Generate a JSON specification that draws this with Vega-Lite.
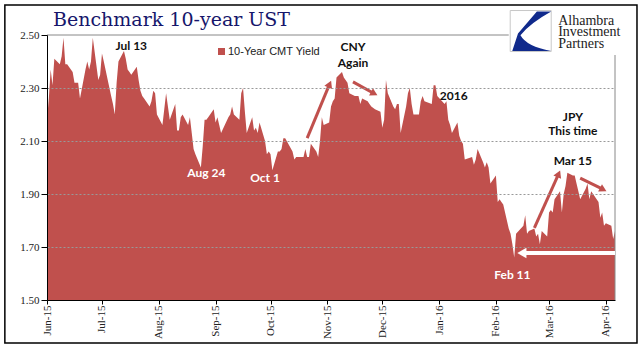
{
  "$schema": "https://vega.github.io/schema/vega-lite/v6.json",
  "width": 568,
  "height": 265,
  "autosize": {"type": "none"},
  "padding": {"left": 47, "top": 35, "right": 29, "bottom": 61},
  "background": "white",
  "title": {"text": "Benchmark 10-year UST", "anchor": "start", "frame": "group", "font": "DejaVu Serif", "fontSize": 19, "fontWeight": "normal", "color": "#16166B", "dx": 6, "dy": 30, "offset": 4},
  "datasets": {
    "yields": [
      {"d":"2015-06-01","v":2.18},{"d":"2015-06-02","v":2.26},{"d":"2015-06-03","v":2.37},{"d":"2015-06-04","v":2.31},{"d":"2015-06-05","v":2.41},
      {"d":"2015-06-08","v":2.39},{"d":"2015-06-09","v":2.42},{"d":"2015-06-10","v":2.49},{"d":"2015-06-11","v":2.39},{"d":"2015-06-12","v":2.39},
      {"d":"2015-06-15","v":2.36},{"d":"2015-06-16","v":2.32},{"d":"2015-06-17","v":2.32},{"d":"2015-06-18","v":2.32},{"d":"2015-06-19","v":2.26},
      {"d":"2015-06-22","v":2.37},{"d":"2015-06-23","v":2.40},{"d":"2015-06-24","v":2.37},{"d":"2015-06-25","v":2.40},{"d":"2015-06-26","v":2.49},
      {"d":"2015-06-29","v":2.33},{"d":"2015-06-30","v":2.35},
      {"d":"2015-07-01","v":2.43},{"d":"2015-07-02","v":2.40},{"d":"2015-07-06","v":2.27},{"d":"2015-07-07","v":2.24},{"d":"2015-07-08","v":2.20},
      {"d":"2015-07-09","v":2.32},{"d":"2015-07-10","v":2.40},{"d":"2015-07-13","v":2.44},{"d":"2015-07-14","v":2.41},{"d":"2015-07-15","v":2.37},
      {"d":"2015-07-16","v":2.36},{"d":"2015-07-17","v":2.35},{"d":"2015-07-20","v":2.38},{"d":"2015-07-21","v":2.33},{"d":"2015-07-22","v":2.29},
      {"d":"2015-07-23","v":2.27},{"d":"2015-07-24","v":2.26},{"d":"2015-07-27","v":2.23},{"d":"2015-07-28","v":2.25},{"d":"2015-07-29","v":2.29},
      {"d":"2015-07-30","v":2.28},{"d":"2015-07-31","v":2.20},
      {"d":"2015-08-03","v":2.16},{"d":"2015-08-04","v":2.22},{"d":"2015-08-05","v":2.28},{"d":"2015-08-06","v":2.23},{"d":"2015-08-07","v":2.18},
      {"d":"2015-08-10","v":2.24},{"d":"2015-08-11","v":2.14},{"d":"2015-08-12","v":2.14},{"d":"2015-08-13","v":2.19},{"d":"2015-08-14","v":2.20},
      {"d":"2015-08-17","v":2.16},{"d":"2015-08-18","v":2.19},{"d":"2015-08-19","v":2.13},{"d":"2015-08-20","v":2.07},{"d":"2015-08-21","v":2.05},
      {"d":"2015-08-24","v":2.00},{"d":"2015-08-25","v":2.08},{"d":"2015-08-26","v":2.18},{"d":"2015-08-27","v":2.18},{"d":"2015-08-28","v":2.19},
      {"d":"2015-08-31","v":2.22},
      {"d":"2015-09-01","v":2.17},{"d":"2015-09-02","v":2.19},{"d":"2015-09-03","v":2.16},{"d":"2015-09-04","v":2.13},{"d":"2015-09-08","v":2.19},
      {"d":"2015-09-09","v":2.20},{"d":"2015-09-10","v":2.23},{"d":"2015-09-11","v":2.20},{"d":"2015-09-14","v":2.18},{"d":"2015-09-15","v":2.28},
      {"d":"2015-09-16","v":2.30},{"d":"2015-09-17","v":2.21},{"d":"2015-09-18","v":2.13},{"d":"2015-09-21","v":2.19},{"d":"2015-09-22","v":2.14},
      {"d":"2015-09-23","v":2.15},{"d":"2015-09-24","v":2.13},{"d":"2015-09-25","v":2.17},{"d":"2015-09-28","v":2.10},{"d":"2015-09-29","v":2.05},
      {"d":"2015-09-30","v":2.06},
      {"d":"2015-10-01","v":2.05},{"d":"2015-10-02","v":1.99},{"d":"2015-10-05","v":2.06},{"d":"2015-10-06","v":2.06},{"d":"2015-10-07","v":2.07},
      {"d":"2015-10-08","v":2.11},{"d":"2015-10-09","v":2.11},{"d":"2015-10-13","v":2.06},{"d":"2015-10-14","v":2.03},{"d":"2015-10-15","v":2.04},
      {"d":"2015-10-16","v":2.04},{"d":"2015-10-19","v":2.04},{"d":"2015-10-20","v":2.07},{"d":"2015-10-21","v":2.04},{"d":"2015-10-22","v":2.04},
      {"d":"2015-10-23","v":2.09},{"d":"2015-10-26","v":2.06},{"d":"2015-10-27","v":2.04},{"d":"2015-10-28","v":2.10},{"d":"2015-10-29","v":2.19},
      {"d":"2015-10-30","v":2.16},
      {"d":"2015-11-02","v":2.17},{"d":"2015-11-03","v":2.23},{"d":"2015-11-04","v":2.25},{"d":"2015-11-05","v":2.26},{"d":"2015-11-06","v":2.34},
      {"d":"2015-11-09","v":2.36},{"d":"2015-11-10","v":2.34},{"d":"2015-11-12","v":2.32},{"d":"2015-11-13","v":2.28},{"d":"2015-11-16","v":2.27},
      {"d":"2015-11-17","v":2.27},{"d":"2015-11-18","v":2.27},{"d":"2015-11-19","v":2.24},{"d":"2015-11-20","v":2.26},{"d":"2015-11-23","v":2.25},
      {"d":"2015-11-24","v":2.24},{"d":"2015-11-25","v":2.23},{"d":"2015-11-27","v":2.22},{"d":"2015-11-30","v":2.21},
      {"d":"2015-12-01","v":2.15},{"d":"2015-12-02","v":2.18},{"d":"2015-12-03","v":2.33},{"d":"2015-12-04","v":2.28},{"d":"2015-12-07","v":2.23},
      {"d":"2015-12-08","v":2.22},{"d":"2015-12-09","v":2.24},{"d":"2015-12-10","v":2.24},{"d":"2015-12-11","v":2.13},{"d":"2015-12-14","v":2.23},
      {"d":"2015-12-15","v":2.28},{"d":"2015-12-16","v":2.30},{"d":"2015-12-17","v":2.24},{"d":"2015-12-18","v":2.20},{"d":"2015-12-21","v":2.20},
      {"d":"2015-12-22","v":2.25},{"d":"2015-12-23","v":2.27},{"d":"2015-12-24","v":2.25},{"d":"2015-12-28","v":2.24},{"d":"2015-12-29","v":2.31},
      {"d":"2015-12-30","v":2.31},{"d":"2015-12-31","v":2.27},
      {"d":"2016-01-04","v":2.24},{"d":"2016-01-05","v":2.25},{"d":"2016-01-06","v":2.18},{"d":"2016-01-07","v":2.16},{"d":"2016-01-08","v":2.13},
      {"d":"2016-01-11","v":2.17},{"d":"2016-01-12","v":2.12},{"d":"2016-01-13","v":2.10},{"d":"2016-01-14","v":2.09},{"d":"2016-01-15","v":2.03},
      {"d":"2016-01-19","v":2.04},{"d":"2016-01-20","v":2.01},{"d":"2016-01-21","v":2.03},{"d":"2016-01-22","v":2.07},{"d":"2016-01-25","v":2.02},
      {"d":"2016-01-26","v":2.00},{"d":"2016-01-27","v":2.02},{"d":"2016-01-28","v":2.00},{"d":"2016-01-29","v":1.94},
      {"d":"2016-02-01","v":1.97},{"d":"2016-02-02","v":1.87},{"d":"2016-02-03","v":1.88},{"d":"2016-02-04","v":1.87},{"d":"2016-02-05","v":1.86},
      {"d":"2016-02-08","v":1.77},{"d":"2016-02-09","v":1.75},{"d":"2016-02-10","v":1.71},{"d":"2016-02-11","v":1.66},{"d":"2016-02-12","v":1.75},
      {"d":"2016-02-16","v":1.78},{"d":"2016-02-17","v":1.82},{"d":"2016-02-18","v":1.75},{"d":"2016-02-19","v":1.76},{"d":"2016-02-22","v":1.77},
      {"d":"2016-02-23","v":1.74},{"d":"2016-02-24","v":1.75},{"d":"2016-02-25","v":1.71},{"d":"2016-02-26","v":1.76},{"d":"2016-02-29","v":1.74},
      {"d":"2016-03-01","v":1.83},{"d":"2016-03-02","v":1.84},{"d":"2016-03-03","v":1.83},{"d":"2016-03-04","v":1.88},{"d":"2016-03-07","v":1.91},
      {"d":"2016-03-08","v":1.83},{"d":"2016-03-09","v":1.90},{"d":"2016-03-10","v":1.93},{"d":"2016-03-11","v":1.98},{"d":"2016-03-14","v":1.97},
      {"d":"2016-03-15","v":1.97},{"d":"2016-03-16","v":1.94},{"d":"2016-03-17","v":1.91},{"d":"2016-03-18","v":1.88},{"d":"2016-03-21","v":1.92},
      {"d":"2016-03-22","v":1.94},{"d":"2016-03-23","v":1.88},{"d":"2016-03-24","v":1.91},{"d":"2016-03-28","v":1.87},{"d":"2016-03-29","v":1.81},
      {"d":"2016-03-30","v":1.83},{"d":"2016-03-31","v":1.78},
      {"d":"2016-04-01","v":1.79},{"d":"2016-04-04","v":1.78},{"d":"2016-04-05","v":1.73},{"d":"2016-04-06","v":1.76}
    ],
    "labelsDark": [
      {"d":"2015-07-17","v":2.460,"t":"Jul 13"},
      {"d":"2015-11-15","v":2.453,"t":"CNY"},
      {"d":"2015-11-15","v":2.394,"t":"Again"},
      {"d":"2016-01-09","v":2.268,"t":"2016"},
      {"d":"2016-03-14","v":2.191,"t":"JPY"},
      {"d":"2016-03-14","v":2.136,"t":"This time"},
      {"d":"2016-03-14","v":2.0245,"t":"Mar 15"}
    ],
    "labelsLight": [
      {"d":"2015-08-27","v":1.979,"t":"Aug 24"},
      {"d":"2015-09-28","v":1.962,"t":"Oct 1"},
      {"d":"2016-02-10","v":1.596,"t":"Feb 11"}
    ],
    "arrowsRed": [
      {"d":"2015-10-21","v":2.111,"d2":"2015-11-02","v2":2.311,"dir":"up"},
      {"d":"2015-11-15","v":2.323,"d2":"2015-11-26","v2":2.281,"dir":"down"},
      {"d":"2016-02-22","v":1.772,"d2":"2016-03-06","v2":1.972,"dir":"up"},
      {"d":"2016-03-18","v":1.960,"d2":"2016-03-30","v2":1.919,"dir":"down"}
    ],
    "arrowWhite": [
      {"d":"2016-04-06","v":1.677,"d2":"2016-02-16","v2":1.677}
    ],
    "frame": [
      {"d":"2015-06-01","v":2.5,"d2":"2016-02-08","v2":2.5},
      {"d":"2016-04-06","v":1.5,"d2":"2016-04-06","v2":2.4245}
    ],
    "border": [
      {"d":"2015-05-09","v":2.613,"d2":"2016-04-18","v2":1.3377}
    ],
    "logo": [
      {"d":"2016-02-20","v":2.515}
    ],
    "logoText": [
      {"d":"2016-03-06","v":2.5396,"t":"Alhambra"},
      {"d":"2016-03-06","v":2.4962,"t":"Investment"},
      {"d":"2016-03-06","v":2.4528,"t":"Partners"}
    ]
  },
  "layer": [
    {
      "data": {"name": "yields"},
      "mark": {"type": "area", "clip": true, "interpolate": "linear"},
      "encoding": {
        "x": {"field": "d", "type": "temporal",
          "scale": {"type": "utc", "domain": [{"year": 2015, "month": 6, "date": 1, "utc": true}, {"year": 2016, "month": 4, "date": 6, "utc": true}]},
          "axis": {"title": null, "format": "%b-%y", "tickCount": {"interval": "month", "step": 1}, "labelAngle": 270, "labelAlign": "right", "labelBaseline": "middle", "labelFont": "Liberation Serif", "labelFontSize": 11, "labelColor": "#222", "tickSize": 4, "labelPadding": 1, "grid": false, "domainColor": "#000", "tickColor": "#000", "labelFlush": false, "labelOverlap": false, "zindex": 1}},
        "y": {"field": "v", "type": "quantitative",
          "scale": {"domain": [1.5, 2.5], "zero": false, "nice": false},
          "axis": {"title": null, "values": [1.5, 1.7, 1.9, 2.1, 2.3, 2.5], "format": ".2f", "labelFont": "Liberation Serif", "labelFontSize": 11, "labelColor": "#222", "tickSize": 6, "labelPadding": 2, "domainColor": "#000", "tickColor": "#000", "grid": true, "gridColor": "#999", "gridDash": [2, 2], "gridOpacity": {"condition": {"test": "datum.value === 1.5 || datum.value === 2.5", "value": 0}, "value": 1}, "zindex": 1}},
        "color": {"datum": "10-Year CMT Yield", "type": "nominal", "scale": {"range": ["#C0504D"]},
          "legend": {"orient": "none", "legendX": 169, "legendY": 11, "title": null, "symbolType": "square", "symbolSize": 49, "symbolStrokeWidth": 0, "labelFont": "Liberation Sans", "labelFontSize": 11, "labelColor": "#222", "labelOffset": 1, "padding": 0}}
      }
    },
    {
      "data": {"name": "frame"},
      "mark": {"type": "rule", "color": "#888", "strokeWidth": 1},
      "encoding": {"x": {"field": "d", "type": "temporal"}, "y": {"field": "v", "type": "quantitative"}, "x2": {"field": "d2"}, "y2": {"field": "v2"}}
    },
    {
      "data": {"name": "labelsDark"},
      "mark": {"type": "text", "font": "Lato", "fontWeight": "bold", "fontSize": 12, "color": "#111", "align": "center", "baseline": "middle"},
      "encoding": {"x": {"field": "d", "type": "temporal"}, "y": {"field": "v", "type": "quantitative"}, "text": {"field": "t"}}
    },
    {
      "data": {"name": "labelsLight"},
      "mark": {"type": "text", "font": "Lato", "fontWeight": "bold", "fontSize": 12, "color": "#FFFFFF", "align": "center", "baseline": "middle"},
      "encoding": {"x": {"field": "d", "type": "temporal"}, "y": {"field": "v", "type": "quantitative"}, "text": {"field": "t"}}
    },
    {
      "data": {"name": "arrowsRed"},
      "mark": {"type": "rule", "color": "#C0504D", "strokeWidth": 3},
      "encoding": {"x": {"field": "d", "type": "temporal"}, "y": {"field": "v", "type": "quantitative"}, "x2": {"field": "d2"}, "y2": {"field": "v2"}}
    },
    {
      "data": {"name": "arrowsRed"},
      "transform": [{"filter": "datum.dir === 'up'"}],
      "mark": {"type": "point", "shape": "triangle", "filled": true, "color": "#C0504D", "size": 70, "angle": 23.5, "opacity": 1},
      "encoding": {"x": {"field": "d2", "type": "temporal"}, "y": {"field": "v2", "type": "quantitative"}}
    },
    {
      "data": {"name": "arrowsRed"},
      "transform": [{"filter": "datum.dir === 'down'"}],
      "mark": {"type": "point", "shape": "triangle", "filled": true, "color": "#C0504D", "size": 70, "angle": 117.6, "opacity": 1},
      "encoding": {"x": {"field": "d2", "type": "temporal"}, "y": {"field": "v2", "type": "quantitative"}}
    },
    {
      "data": {"name": "arrowWhite"},
      "mark": {"type": "rule", "color": "#FFFFFF", "strokeWidth": 4},
      "encoding": {"x": {"field": "d", "type": "temporal"}, "y": {"field": "v", "type": "quantitative"}, "x2": {"field": "d2"}, "y2": {"field": "v2"}}
    },
    {
      "data": {"name": "arrowWhite"},
      "mark": {"type": "point", "shape": "triangle", "filled": true, "color": "#FFFFFF", "size": 110, "angle": 270, "opacity": 1},
      "encoding": {"x": {"field": "d2", "type": "temporal"}, "y": {"field": "v2", "type": "quantitative"}}
    },
    {
      "data": {"name": "logo"},
      "mark": {"type": "point", "shape": "square", "filled": true, "fill": "#FFFFFF", "stroke": "#C8C8C8", "strokeWidth": 1, "size": 1681, "opacity": 1},
      "encoding": {"x": {"field": "d", "type": "temporal"}, "y": {"field": "v", "type": "quantitative"}}
    },
    {
      "data": {"name": "logo"},
      "mark": {"type": "point", "shape": "M0.3,-0.95L1,-0.95Q0,-0.4 -0.5,0.2Q-0.2,0.75 1,0.97L-0.9,0.97L-0.62,0.12Z", "filled": true, "color": "#102A8C", "size": 1681, "opacity": 1},
      "encoding": {"x": {"field": "d", "type": "temporal"}, "y": {"field": "v", "type": "quantitative"}}
    },
    {
      "data": {"name": "logoText"},
      "mark": {"type": "text", "font": "Liberation Serif", "fontSize": 14, "color": "#222", "align": "left", "baseline": "alphabetic"},
      "encoding": {"x": {"field": "d", "type": "temporal"}, "y": {"field": "v", "type": "quantitative"}, "text": {"field": "t"}}
    },
    {
      "data": {"name": "border"},
      "mark": {"type": "rect", "fill": null, "stroke": "#000", "strokeWidth": 1.5},
      "encoding": {"x": {"field": "d", "type": "temporal"}, "y": {"field": "v", "type": "quantitative"}, "x2": {"field": "d2"}, "y2": {"field": "v2"}}
    }
  ],
  "config": {"view": {"stroke": null}}
}
